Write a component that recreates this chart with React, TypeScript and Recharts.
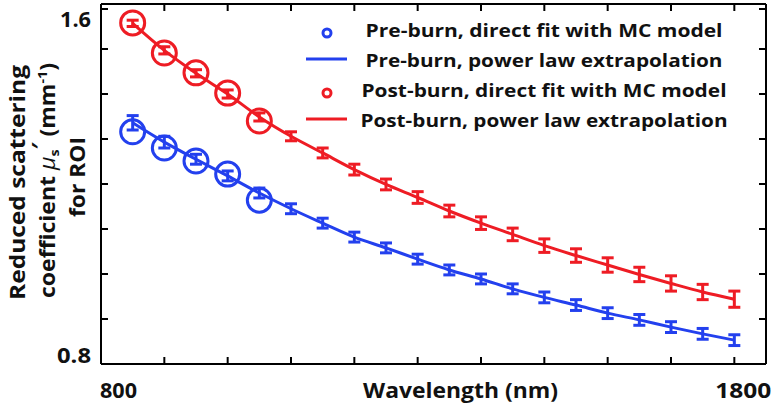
import React from 'react';
import { ComposedChart, Line, XAxis, YAxis, ErrorBar } from 'recharts';

const wavelengths = [850, 900, 950, 1000, 1050, 1100, 1150, 1200, 1250, 1300, 1350, 1400, 1450, 1500, 1550, 1600, 1650, 1700, 1750, 1800];
const preLaw = [1.336, 1.293, 1.255, 1.218, 1.18, 1.145, 1.113, 1.082, 1.058, 1.033, 1.009, 0.989, 0.967, 0.948, 0.931, 0.913, 0.898, 0.882, 0.867, 0.853];
const preErr = [0.016, 0.013, 0.011, 0.011, 0.011, 0.011, 0.011, 0.011, 0.011, 0.011, 0.011, 0.011, 0.011, 0.012, 0.012, 0.012, 0.012, 0.012, 0.012, 0.012];
const postLaw = [1.557, 1.497, 1.446, 1.4, 1.349, 1.306, 1.269, 1.232, 1.199, 1.17, 1.14, 1.113, 1.088, 1.063, 1.041, 1.02, 0.999, 0.979, 0.96, 0.944];
const postErr = [0.007, 0.008, 0.008, 0.009, 0.009, 0.01, 0.011, 0.012, 0.012, 0.013, 0.013, 0.014, 0.014, 0.015, 0.015, 0.016, 0.016, 0.017, 0.017, 0.018];

const fitWavelengths = [850, 900, 950, 1000, 1050];
const preFit = [1.316, 1.28, 1.251, 1.222, 1.164];
const postFit = [1.558, 1.491, 1.447, 1.402, 1.34];

const xTicks = [800, 900, 1000, 1100, 1200, 1300, 1400, 1500, 1600, 1700, 1800];
const yTicks = [0.8, 0.9, 1.0, 1.1, 1.2, 1.3, 1.4, 1.5, 1.6];

const BLUE = '#2340ee';
const RED = '#ee1c24';
const FONT = '"Open Sans", sans-serif';
const INK = '#111';
const FRAME = '#000';

const lawData = wavelengths.map((wl, i) => ({
  wl,
  pre: preLaw[i],
  preErr: preErr[i],
  post: postLaw[i],
  postErr: postErr[i],
}));

const fitData = fitWavelengths.map((wl, i) => ({ wl, preFit: preFit[i], postFit: postFit[i] }));

const TICK = 7;

// tick marks point into the plot, only the end values get labels
const BottomTick = (props: any) => {
  const x = Number(props.x);
  const y = Number(props.y);
  const v = props.payload.value;
  return (
    <g>
      <line x1={x} x2={x} y1={y} y2={y - TICK} stroke={FRAME} strokeWidth={2} />
      {v === 800 && (
        <text x={x - 1} y={y + 34} textLength={37} lengthAdjust="spacingAndGlyphs" fontFamily={FONT} fontWeight={700} fontSize={21} fill={INK}>800</text>
      )}
      {v === 1800 && (
        <text x={x - 19} y={y + 34} textLength={56} lengthAdjust="spacingAndGlyphs" fontFamily={FONT} fontWeight={700} fontSize={21} fill={INK}>1800</text>
      )}
    </g>
  );
};

const TopTick = (props: any) => {
  const x = Number(props.x);
  const y = Number(props.y);
  return <line x1={x} x2={x} y1={y} y2={y + TICK} stroke={FRAME} strokeWidth={2} />;
};

const LeftTick = (props: any) => {
  const x = Number(props.x);
  const y = Number(props.y);
  const v = Math.round(props.payload.value * 10) / 10;
  return (
    <g>
      <line x1={x} x2={x + TICK} y1={y} y2={y} stroke={FRAME} strokeWidth={2} />
      {v === 1.6 && (
        <text x={x - 41} y={y + 18} textLength={31} lengthAdjust="spacingAndGlyphs" fontFamily={FONT} fontWeight={700} fontSize={21} fill={INK}>1.6</text>
      )}
      {v === 0.8 && (
        <text x={x - 44} y={y - 1} textLength={34} lengthAdjust="spacingAndGlyphs" fontFamily={FONT} fontWeight={700} fontSize={21} fill={INK}>0.8</text>
      )}
    </g>
  );
};

const RightTick = (props: any) => {
  const x = Number(props.x);
  const y = Number(props.y);
  return <line x1={x} x2={x - TICK} y1={y} y2={y} stroke={FRAME} strokeWidth={2} />;
};

const ring = (color: string) => (props: any) => {
  const { cx, cy, index } = props;
  if (cx == null || cy == null) return <g key={index} />;
  return <circle key={index} cx={cx} cy={cy} r={12} fill="none" stroke={color} strokeWidth={3} />;
};

const legendRows = [
  { label: 'Pre-burn, direct fit with MC model', color: BLUE, kind: 'circle', w: 357 },
  { label: 'Pre-burn, power law extrapolation', color: BLUE, kind: 'line', w: 357 },
  { label: 'Post-burn, direct fit with MC model', color: RED, kind: 'circle', w: 365 },
  { label: 'Post-burn, power law extrapolation', color: RED, kind: 'line', w: 367 },
];

function Overlay() {
  return (
    <svg width={776} height={406} style={{ position: 'absolute', left: 0, top: 0, pointerEvents: 'none' }}>
      {legendRows.map((r, i) => {
        const base = 37 + i * 30;
        return (
          <g key={r.label}>
            {r.kind === 'circle' ? (
              <circle cx={327} cy={base - 4} r={4} fill="none" stroke={r.color} strokeWidth={3} />
            ) : (
              <line x1={306} x2={347} y1={base - 8} y2={base - 8} stroke={r.color} strokeWidth={3} />
            )}
            <text x={544 - r.w / 2} y={base} textLength={r.w} lengthAdjust="spacingAndGlyphs" fontFamily={FONT} fontWeight={700} fontSize={18} fill={INK}>
              {r.label}
            </text>
          </g>
        );
      })}
      <g fontFamily={FONT} fontWeight={700} fontSize={21} fill={INK}>
        <text transform="translate(25,300) rotate(-90)" textLength={235} lengthAdjust="spacingAndGlyphs">Reduced scattering</text>
        <text transform="translate(55,298) rotate(-90)" textLength={235} lengthAdjust="spacingAndGlyphs">
          coefficient <tspan fontStyle="italic" fontWeight={400}>μ</tspan>
          <tspan fontSize={13} dy={4}>s</tspan>
          <tspan dy={-12}>′</tspan>
          <tspan dy={8}> (mm</tspan>
          <tspan fontSize={13} dy={-8}>-1</tspan>
          <tspan dy={8}>)</tspan>
        </text>
        <text transform="translate(85,217) rotate(-90)" textLength={80} lengthAdjust="spacingAndGlyphs">for ROI</text>
      </g>
      <text x={363} y={398} textLength={195} lengthAdjust="spacingAndGlyphs" fontFamily={FONT} fontWeight={700} fontSize={21} fill={INK}>
        Wavelength (nm)
      </text>
    </svg>
  );
}

export default function App() {
  return (
    <div style={{ position: 'absolute', left: 0, top: 0, width: 776, height: 406, background: '#fff' }}>
      <ComposedChart width={776} height={406} data={lawData} margin={{ top: 0, right: 0, left: 0, bottom: 0 }}>
        <XAxis
          xAxisId="b"
          dataKey="wl"
          type="number"
          domain={[800, 1850]}
          ticks={xTicks}
          height={42}
          tickSize={0}
          tickMargin={0}
          tickLine={false}
          tick={<BottomTick />}
          axisLine={{ stroke: FRAME, strokeWidth: 2 }}
          allowDataOverflow
        />
        <XAxis
          xAxisId="t"
          orientation="top"
          dataKey="wl"
          type="number"
          domain={[800, 1850]}
          ticks={xTicks}
          height={4}
          tickSize={0}
          tickMargin={0}
          tickLine={false}
          tick={<TopTick />}
          axisLine={{ stroke: FRAME, strokeWidth: 2 }}
          allowDataOverflow
        />
        <YAxis
          yAxisId="l"
          type="number"
          domain={[0.8, 1.6]}
          ticks={yTicks}
          width={101}
          tickSize={0}
          tickMargin={0}
          tickLine={false}
          tick={<LeftTick />}
          axisLine={{ stroke: FRAME, strokeWidth: 2 }}
          allowDataOverflow
        />
        <YAxis
          yAxisId="r"
          orientation="right"
          type="number"
          domain={[0.8, 1.6]}
          ticks={yTicks}
          width={10}
          tickSize={0}
          tickMargin={0}
          tickLine={false}
          tick={<RightTick />}
          axisLine={{ stroke: FRAME, strokeWidth: 2 }}
          allowDataOverflow
        />
        <Line xAxisId="b" yAxisId="l" type="monotone" dataKey="pre" stroke={BLUE} strokeWidth={3} dot={false} isAnimationActive={false}>
          <ErrorBar dataKey="preErr" width={6} strokeWidth={3} stroke={BLUE} direction="y" />
        </Line>
        <Line xAxisId="b" yAxisId="l" type="monotone" dataKey="post" stroke={RED} strokeWidth={3} dot={false} isAnimationActive={false}>
          <ErrorBar dataKey="postErr" width={6} strokeWidth={3} stroke={RED} direction="y" />
        </Line>
        <Line xAxisId="b" yAxisId="l" data={fitData} dataKey="preFit" stroke="none" dot={ring(BLUE)} activeDot={false} isAnimationActive={false} />
        <Line xAxisId="b" yAxisId="l" data={fitData} dataKey="postFit" stroke="none" dot={ring(RED)} activeDot={false} isAnimationActive={false} />
      </ComposedChart>
      <Overlay />
    </div>
  );
}
